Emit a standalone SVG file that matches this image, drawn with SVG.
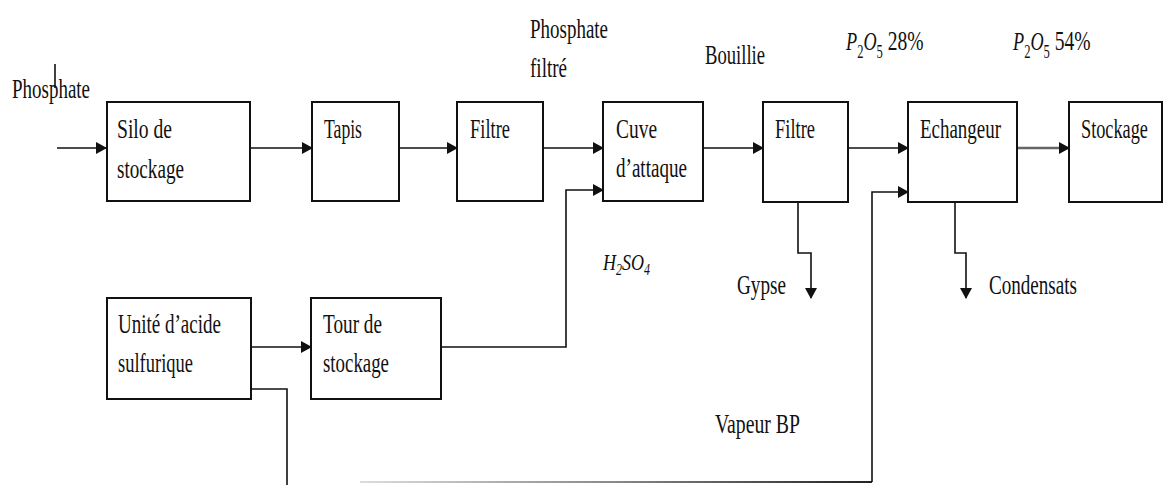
<svg xmlns="http://www.w3.org/2000/svg" width="1164" height="485" viewBox="0 0 1164 485">
<style>
.box{fill:#fff;stroke:#111;stroke-width:2}
.ln{fill:none;stroke:#111;stroke-width:1.6}
.t{font-family:"Liberation Serif","Times New Roman",serif;font-size:28px;fill:#111}
.m{font-family:"Liberation Serif","Times New Roman",serif;font-style:italic;fill:#111}
</style>
<defs>
<marker id="ah" markerUnits="userSpaceOnUse" markerWidth="12" markerHeight="12" refX="10" refY="6" orient="auto">
<path d="M0,0 L11,6 L0,12 Z" fill="#111"/>
</marker>
<linearGradient id="vg" gradientUnits="userSpaceOnUse" x1="360" y1="0" x2="872" y2="0">
<stop offset="0" stop-color="#ddd"/>
<stop offset="0.5" stop-color="#888"/>
<stop offset="1" stop-color="#222"/>
</linearGradient>
</defs>
<rect width="1164" height="485" fill="#fff"/>

<g id="connectors">
<line class="ln" x1="57" y1="148" x2="106" y2="148" marker-end="url(#ah)"/>
<line class="ln" x1="250" y1="148" x2="312" y2="148" marker-end="url(#ah)"/>
<line class="ln" x1="399" y1="148" x2="457" y2="148" marker-end="url(#ah)"/>
<line class="ln" x1="543" y1="148" x2="603" y2="148" marker-end="url(#ah)"/>
<line class="ln" x1="703" y1="148" x2="763" y2="148" marker-end="url(#ah)"/>
<line class="ln" x1="848" y1="148" x2="908" y2="148" marker-end="url(#ah)"/>
<line x1="1017" y1="148" x2="1069" y2="148" stroke="#666" stroke-width="2.6" marker-end="url(#ah)"/>
<polyline class="ln" points="441,347 566,347 566,190 603,190" marker-end="url(#ah)"/>
<line class="ln" x1="251" y1="347" x2="311" y2="347" marker-end="url(#ah)"/>
<polyline class="ln" points="251,389 287,389 287,485"/>
<polyline class="ln" points="798,203 798,253 811,253 811,298" marker-end="url(#ah)"/>
<polyline class="ln" points="955,203 955,253 966,253 966,298" marker-end="url(#ah)"/>
<line x1="360" y1="482" x2="872" y2="482" stroke="url(#vg)" stroke-width="2"/>
<polyline class="ln" points="872,482 872,192 908,192" marker-end="url(#ah)"/>
</g>

<line x1="55" y1="64" x2="55" y2="88" stroke="#111" stroke-width="1.6"/>
<text class="t" x="12" y="98" textLength="78" lengthAdjust="spacingAndGlyphs">Phosphate</text>

<g id="silo">
<rect class="box" x="107" y="102" width="143" height="99"/>
<text class="t" x="117" y="138" textLength="55" lengthAdjust="spacingAndGlyphs">Silo de</text>
<text class="t" x="117" y="178" textLength="67" lengthAdjust="spacingAndGlyphs">stockage</text>
</g>
<g id="tapis">
<rect class="box" x="312" y="102" width="87" height="99"/>
<text class="t" x="324" y="138" textLength="38" lengthAdjust="spacingAndGlyphs">Tapis</text>
</g>
<g id="filtre1">
<rect class="box" x="457" y="102" width="86" height="99"/>
<text class="t" x="470" y="138" textLength="40" lengthAdjust="spacingAndGlyphs">Filtre</text>
</g>
<g id="cuve">
<rect class="box" x="603" y="102" width="100" height="99"/>
<text class="t" x="616" y="138" textLength="41" lengthAdjust="spacingAndGlyphs">Cuve</text>
<text class="t" x="616" y="177" textLength="71" lengthAdjust="spacingAndGlyphs">d’attaque</text>
</g>
<g id="filtre2">
<rect class="box" x="763" y="102" width="85" height="100"/>
<text class="t" x="775" y="138" textLength="40" lengthAdjust="spacingAndGlyphs">Filtre</text>
</g>
<g id="echangeur">
<rect class="box" x="908" y="102" width="109" height="100"/>
<text class="t" x="920" y="138" textLength="81" lengthAdjust="spacingAndGlyphs">Echangeur</text>
</g>
<g id="stockage">
<rect class="box" x="1069" y="102" width="93" height="100"/>
<text class="t" transform="translate(1081 138) scale(0.653 1)">Stockage</text>
</g>
<g id="unite">
<rect class="box" x="107" y="298" width="144" height="101"/>
<text class="t" x="118" y="333" textLength="103" lengthAdjust="spacingAndGlyphs">Unité d’acide</text>
<text class="t" x="118" y="372" textLength="75" lengthAdjust="spacingAndGlyphs">sulfurique</text>
</g>
<g id="tour">
<rect class="box" x="311" y="298" width="130" height="101"/>
<text class="t" x="323" y="333" textLength="59" lengthAdjust="spacingAndGlyphs">Tour de</text>
<text class="t" x="323" y="372" textLength="66" lengthAdjust="spacingAndGlyphs">stockage</text>
</g>

<g id="labels">
<text class="t" x="530" y="38" textLength="78" lengthAdjust="spacingAndGlyphs">Phosphate</text>
<text class="t" x="530" y="77" textLength="37" lengthAdjust="spacingAndGlyphs">filtré</text>
<text class="t" x="705" y="64" textLength="60" lengthAdjust="spacingAndGlyphs">Bouillie</text>
<text class="m" font-size="26" transform="translate(846 50) scale(0.7 1)">P<tspan font-size="18" font-style="normal" dy="8">2</tspan><tspan dy="-8">O</tspan><tspan font-size="18" font-style="normal" dy="8">5</tspan><tspan font-size="28" font-style="normal" dy="-8"> 28%</tspan></text>
<text class="m" font-size="26" transform="translate(1013 50) scale(0.7 1)">P<tspan font-size="18" font-style="normal" dy="8">2</tspan><tspan dy="-8">O</tspan><tspan font-size="18" font-style="normal" dy="8">5</tspan><tspan font-size="28" font-style="normal" dy="-8"> 54%</tspan></text>
<text class="m" font-size="24" transform="translate(603 270) scale(0.75 1)">H<tspan font-size="16" dy="5">2</tspan><tspan dy="-5">SO</tspan><tspan font-size="16" dy="5">4</tspan></text>
<text class="t" x="737" y="294" textLength="49" lengthAdjust="spacingAndGlyphs">Gypse</text>
<text class="t" x="989" y="294" textLength="88" lengthAdjust="spacingAndGlyphs">Condensats</text>
<text class="t" x="715" y="433" textLength="85" lengthAdjust="spacingAndGlyphs">Vapeur BP</text>
</g>
</svg>
